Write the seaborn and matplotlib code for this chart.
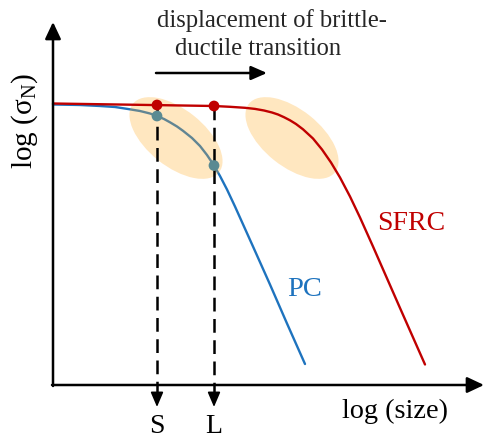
import matplotlib
matplotlib.use("Agg")
import matplotlib.pyplot as plt
from matplotlib.patches import Ellipse
import seaborn as sns
import pandas as pd

# Schematic size-effect curves, in a 485 x 439 drawing space (y grows downward)
pc_x = [53, 80, 100, 115, 128, 140, 150, 157, 164, 170, 177, 183, 192, 200, 207, 214,
        220, 227, 235, 244, 253, 270, 287, 305]
pc_y = [105.5, 106, 107, 108, 110, 112, 114.5, 117, 120, 123.3, 127.5, 131.8, 139, 147,
        156, 166.5, 177, 190.5, 207.5, 227.5, 247.5, 285.5, 324.5, 365]
sfrc_x = [53, 150, 214, 230, 245, 255, 264, 272, 278, 284, 290, 296, 303, 313, 322,
          331, 340, 350, 360, 373, 400, 425]
sfrc_y = [104.5, 106, 107, 107.8, 108.8, 109.9, 111.5, 113.5, 115.5, 118.2, 121.3, 125,
          130.3, 139.5, 150.5, 163.5, 178.5, 197.5, 218.5, 247.5, 309, 365.5]

# Sizes S and L with their strengths on each curve
size_labels = ["S", "L"]
size_x = [157, 214]
sfrc_at_size = [106, 107]
pc_at_size = [117, 166.5]

# Transition zones (centre x, centre y)
zone_x = [176, 292]
zone_y = [139, 139]

RED = "#C00000"
BLUE = "#1E73BE"
TEAL = "#5A8A92"
ZONE = "#FFB030"

sns.set_theme(style="white")
plt.rcParams["font.family"] = ["Liberation Serif", "DejaVu Serif"]

fig = plt.figure(figsize=(4.85, 4.39), dpi=100)
ax = fig.add_axes([0, 0, 1, 1])
ax.set_xlim(0, 485)
ax.set_ylim(439, 0)
ax.axis("off")

pc = pd.DataFrame({"x": pc_x, "y": pc_y})
sfrc = pd.DataFrame({"x": sfrc_x, "y": sfrc_y})
sns.lineplot(data=pc, x="x", y="y", sort=False, color=BLUE, lw=1.7, ax=ax, zorder=2,
             solid_joinstyle="round")

for cx, cy in zip(zone_x, zone_y):
    ax.add_patch(Ellipse((cx, cy), 110, 57, angle=38.5, facecolor=ZONE,
                         edgecolor="none", alpha=0.3, zorder=3))

sns.lineplot(data=sfrc, x="x", y="y", sort=False, color=RED, lw=1.7, ax=ax, zorder=4,
             solid_joinstyle="round")

# Axes with arrowheads
arrow_kw = dict(arrowstyle="-|>,head_length=0.85,head_width=0.4", color="black", lw=1.8,
                shrinkA=0, shrinkB=0)
ax.annotate("", xy=(53, 23), xytext=(53, 387), arrowprops=arrow_kw, zorder=5)
ax.annotate("", xy=(484, 386), xytext=(52, 386), arrowprops=arrow_kw, zorder=5)

# Dashed drop lines to the size axis
for sx, sy in zip(size_x, sfrc_at_size):
    ax.plot([sx, sx], [sy, 397], ls=(0, (5.5, 3)), color="black", lw=1.8, zorder=5)
    ax.annotate("", xy=(sx, 408), xytext=(sx, 396),
                arrowprops=dict(arrowstyle="-|>,head_length=0.75,head_width=0.32",
                                color="black", lw=1.2, shrinkA=0, shrinkB=0), zorder=5)

pts_red = pd.DataFrame({"x": size_x, "y": sfrc_at_size})
pts_pc = pd.DataFrame({"x": size_x, "y": pc_at_size})
sns.scatterplot(data=pts_red, x="x", y="y", color=RED, s=60, edgecolor="none", ax=ax, zorder=6)
sns.scatterplot(data=pts_pc, x="x", y="y", color=TEAL, s=60, edgecolor="none", ax=ax, zorder=6)

# Displacement arrow
ax.annotate("", xy=(267, 74), xytext=(156, 74),
            arrowprops=dict(arrowstyle="-|>,head_length=0.8,head_width=0.35",
                            color="black", lw=1.8, shrinkA=0, shrinkB=0), zorder=5)

for lab, sx in zip(size_labels, size_x):
    ax.text(sx, 427, lab, fontsize=20, ha="center", va="center", color="black")

ax.text(395, 411, "log (size)", fontsize=20.3, ha="center", va="center", color="black")
ax.text(25, 121, r"log ($\mathregular{\sigma_N}$)", fontsize=21, rotation=90,
        ha="center", va="center", color="black")
ax.text(272, 21, "displacement of brittle-", fontsize=17.7, ha="center", va="center")
ax.text(258, 49, "ductile transition", fontsize=17.7, ha="center", va="center")
ax.text(411, 224, "SFRC", fontsize=20, ha="center", va="center", color=RED)
ax.text(305, 290, "PC", fontsize=20.5, ha="center", va="center", color=BLUE)

fig.savefig("out.png", dpi=100)
